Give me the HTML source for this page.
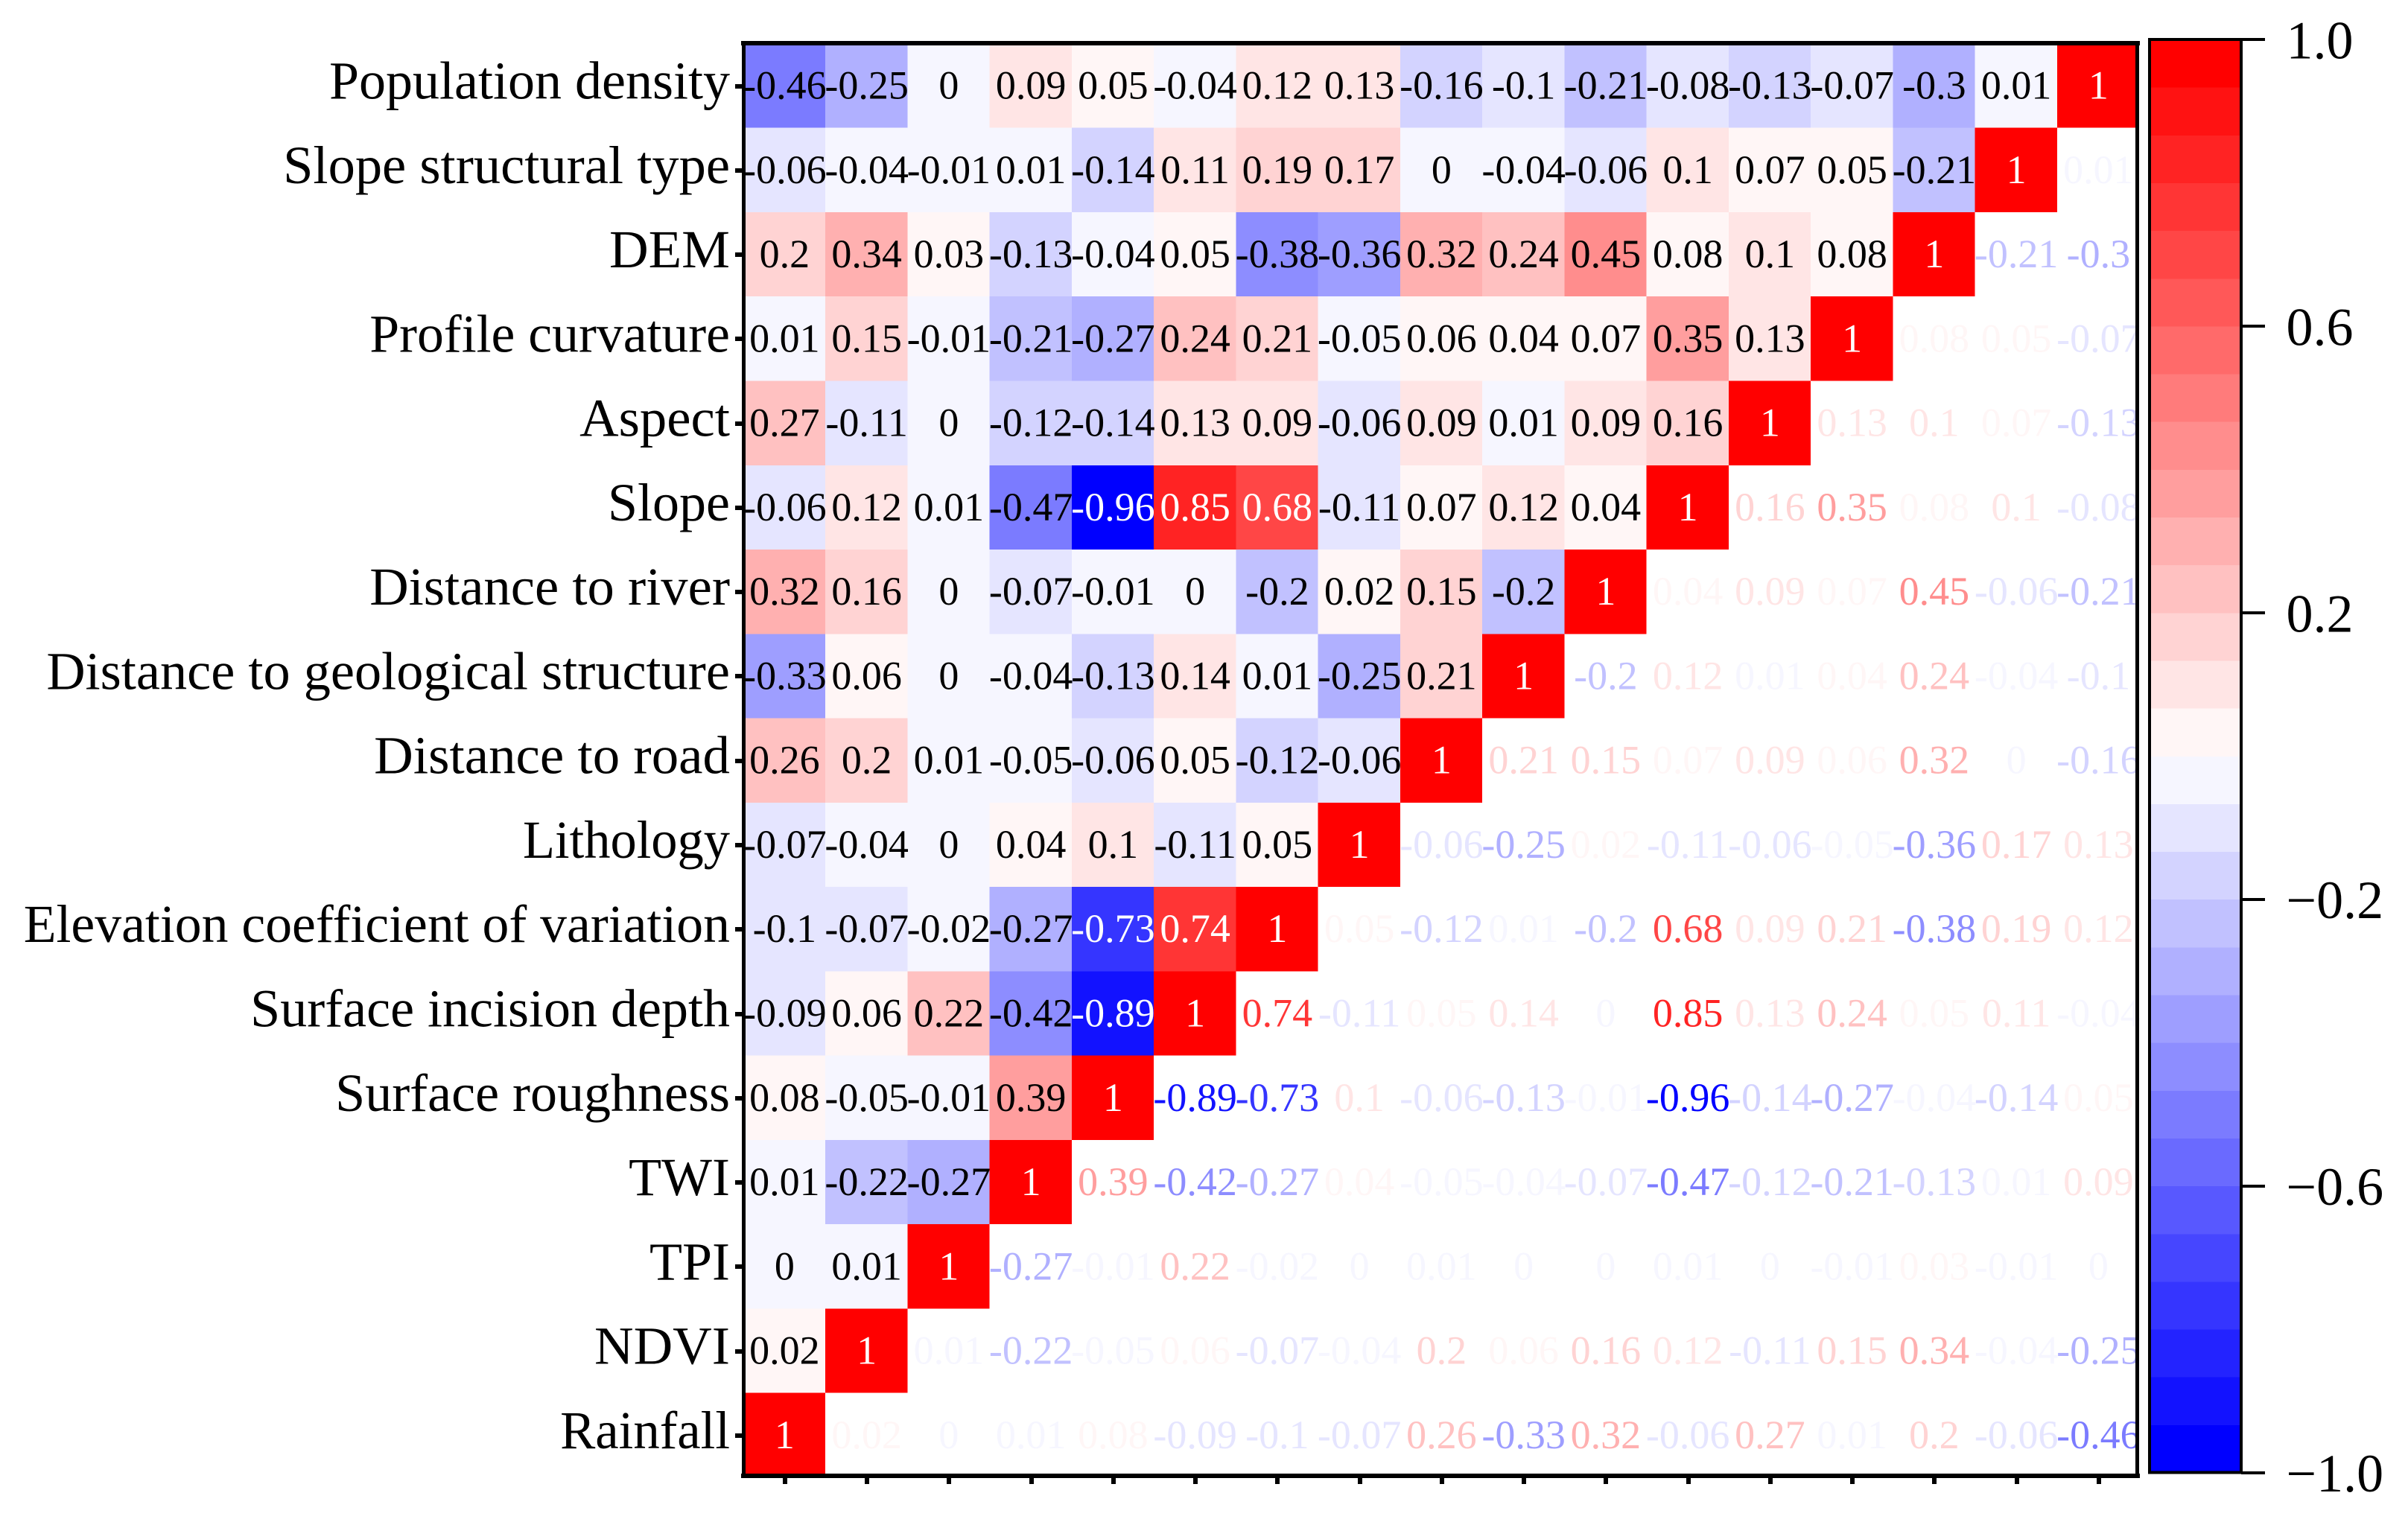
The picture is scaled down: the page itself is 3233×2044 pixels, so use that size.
<!DOCTYPE html>
<html lang="en">
<head>
<meta charset="utf-8">
<title>Correlation heatmap</title>
<style>
html,body{margin:0;padding:0;background:#fff;}
svg{display:block;}
text{font-family:"Liberation Serif","Times New Roman",serif;}
</style>
</head>
<body>
<svg id="chart" xmlns="http://www.w3.org/2000/svg" width="3233" height="2044" viewBox="0 0 3233 2044">
  <rect x="0" y="0" width="3233" height="2044" fill="#ffffff"></rect>
  <g id="cells" shape-rendering="crispEdges"></g>
  <g id="values"></g>
  <g id="yaxis"></g>
  <g id="xaxis" shape-rendering="crispEdges"></g>
  <g shape-rendering="crispEdges">
    <rect x="995" y="55" width="1878" height="6" fill="#000"></rect>
    <rect x="995" y="1979" width="1878" height="6" fill="#000"></rect>
    <rect x="996" y="55" width="5" height="1930" fill="#000"></rect>
    <rect x="2867" y="55" width="5" height="1930" fill="#000"></rect>
  </g>
  <g id="colorbar"></g>
</svg>
<script>
const rowLabels = ["Population density","Slope structural type","DEM","Profile curvature","Aspect","Slope","Distance to river","Distance to geological structure","Distance to road","Lithology","Elevation coefficient of variation","Surface incision depth","Surface roughness","TWI","TPI","NDVI","Rainfall"];
const populationDensity = [-0.46,-0.25,0,0.09,0.05,-0.04,0.12,0.13,-0.16,-0.1,-0.21,-0.08,-0.13,-0.07,-0.3,0.01,1];
const slopeStructuralType = [-0.06,-0.04,-0.01,0.01,-0.14,0.11,0.19,0.17,0,-0.04,-0.06,0.1,0.07,0.05,-0.21,1,0.01];
const dem = [0.2,0.34,0.03,-0.13,-0.04,0.05,-0.38,-0.36,0.32,0.24,0.45,0.08,0.1,0.08,1,-0.21,-0.3];
const profileCurvature = [0.01,0.15,-0.01,-0.21,-0.27,0.24,0.21,-0.05,0.06,0.04,0.07,0.35,0.13,1,0.08,0.05,-0.07];
const aspect = [0.27,-0.11,0,-0.12,-0.14,0.13,0.09,-0.06,0.09,0.01,0.09,0.16,1,0.13,0.1,0.07,-0.13];
const slope = [-0.06,0.12,0.01,-0.47,-0.96,0.85,0.68,-0.11,0.07,0.12,0.04,1,0.16,0.35,0.08,0.1,-0.08];
const distanceToRiver = [0.32,0.16,0,-0.07,-0.01,0,-0.2,0.02,0.15,-0.2,1,0.04,0.09,0.07,0.45,-0.06,-0.21];
const distanceToGeological = [-0.33,0.06,0,-0.04,-0.13,0.14,0.01,-0.25,0.21,1,-0.2,0.12,0.01,0.04,0.24,-0.04,-0.1];
const distanceToRoad = [0.26,0.2,0.01,-0.05,-0.06,0.05,-0.12,-0.06,1,0.21,0.15,0.07,0.09,0.06,0.32,0,-0.16];
const lithology = [-0.07,-0.04,0,0.04,0.1,-0.11,0.05,1,-0.06,-0.25,0.02,-0.11,-0.06,-0.05,-0.36,0.17,0.13];
const elevationCoefficient = [-0.1,-0.07,-0.02,-0.27,-0.73,0.74,1,0.05,-0.12,0.01,-0.2,0.68,0.09,0.21,-0.38,0.19,0.12];
const surfaceIncision = [-0.09,0.06,0.22,-0.42,-0.89,1,0.74,-0.11,0.05,0.14,0,0.85,0.13,0.24,0.05,0.11,-0.04];
const surfaceRoughness = [0.08,-0.05,-0.01,0.39,1,-0.89,-0.73,0.1,-0.06,-0.13,-0.01,-0.96,-0.14,-0.27,-0.04,-0.14,0.05];
const twi = [0.01,-0.22,-0.27,1,0.39,-0.42,-0.27,0.04,-0.05,-0.04,-0.07,-0.47,-0.12,-0.21,-0.13,0.01,0.09];
const tpi = [0,0.01,1,-0.27,-0.01,0.22,-0.02,0,0.01,0,0,0.01,0,-0.01,0.03,-0.01,0];
const ndvi = [0.02,1,0.01,-0.22,-0.05,0.06,-0.07,-0.04,0.2,0.06,0.16,0.12,-0.11,0.15,0.34,-0.04,-0.25];
const rainfall = [1,0.02,0,0.01,0.08,-0.09,-0.1,-0.07,0.26,-0.33,0.32,-0.06,0.27,0.01,0.2,-0.06,-0.46];
const matrixRows = [populationDensity,slopeStructuralType,dem,profileCurvature,aspect,slope,distanceToRiver,distanceToGeological,distanceToRoad,lithology,elevationCoefficient,surfaceIncision,surfaceRoughness,twi,tpi,ndvi,rainfall];
const colorbarTickValues = [1,0.6,0.2,-0.2,-0.6,-1];
const colorbarTickLabels = ["1.0","0.6","0.2","\u22120.2","\u22120.6","\u22121.0"];

const SVG_NS = "http://www.w3.org/2000/svg";
const nCols = matrixRows[0].length;
const nRows = matrixRows.length;
const nLevels = 30;

/* Typography only: per-label width correction, so label left edges match the reference font metrics. */
const labelWidthFit = {
  "Slope structural type": 4,
  "DEM": 2,
  "Profile curvature": -2,
  "Aspect": 2,
  "Distance to river": 4,
  "Distance to geological structure": 4,
  "Distance to road": 6,
  "Lithology": -6,
  "Elevation coefficient of variation": -4,
  "NDVI": 2,
  "Rainfall": -4
};

function colX(c){ return 997.75 + 110.25 * c; }
function rowY(r){ return 58.4 + 113.27 * r; }
function colCenter(c){ return colX(c) + 55.6; }
function rowCenter(r){ return rowY(r) + 56.635; }
function cbY(v){ return 53.5 + (1 - v) / 2 * 1924.5; }

function levelColor(i){
  const t = i / (nLevels - 1);
  if (t < 0.5) {
    const g = Math.round(255 * 2 * t);
    return "rgb(" + g + "," + g + ",255)";
  }
  const g = Math.round(255 * (2 - 2 * t));
  return "rgb(255," + g + "," + g + ")";
}
function valueLevel(v){
  const i = Math.floor((v - 0.015) / 0.0655) + 15;
  return Math.max(0, Math.min(nLevels - 1, i));
}
function valueColor(v){ return levelColor(valueLevel(v)); }
function make(tag, attrs, parent){
  const el = document.createElementNS(SVG_NS, tag);
  for (const k in attrs) { el.setAttribute(k, attrs[k]); }
  parent.appendChild(el);
  return el;
}

const cellsG = document.getElementById("cells");
const valuesG = document.getElementById("values");
const yaxisG = document.getElementById("yaxis");
const xaxisG = document.getElementById("xaxis");
const cbG = document.getElementById("colorbar");

matrixRows.forEach(function(row, r){
  row.forEach(function(v, c){
    const isFilled = r + c <= nCols - 1;
    const isDiagonal = r + c === nCols - 1;
    if (isFilled) {
      const cell = make("rect", {x: colX(c), y: rowY(r), width: colX(c + 1) - colX(c), height: rowY(r + 1) - rowY(r), fill: valueColor(v)}, cellsG);
      
      
    }
    let fill;
    if (!isFilled) { fill = valueColor(v); }
    else if (isDiagonal || Math.abs(v) >= 0.5) { fill = "#ffffff"; }
    else { fill = "#000000"; }
    const t = make("text", {x: colCenter(c), y: rowCenter(r) + 17.5, "text-anchor": "middle", "font-size": 54, fill: fill}, valuesG);
    
    
    t.textContent = String(v);
  });
});

rowLabels.forEach(function(label, r){
  const t = make("text", {x: 980, y: rowCenter(r) + 17.5, "text-anchor": "end", "font-size": 72, fill: "#000"}, yaxisG);
  
  
  t.textContent = label;
  if (labelWidthFit[label]) {
    const fitted = t.getComputedTextLength() + labelWidthFit[label];
    t.setAttribute("textLength", fitted);
    t.setAttribute("lengthAdjust", "spacingAndGlyphs");
  }
  const tick = make("rect", {x: 987, y: Math.round(rowCenter(r) - 2.5), width: 10, height: 6, fill: "#000", "shape-rendering": "crispEdges"}, yaxisG);
  
  
});

for (let c = 0; c < nCols; c++) {
  const tick = make("rect", {x: Math.round(colCenter(c) - 2.5), y: 1985, width: 6, height: 8, fill: "#000"}, xaxisG);
  
  
}

for (let i = 0; i < nLevels; i++) {
  const hi = 1 - i * 2 / nLevels;
  const lo = 1 - (i + 1) * 2 / nLevels;
  const band = make("rect", {x: 2886, y: cbY(hi), width: 123, height: cbY(lo) - cbY(hi), fill: levelColor(nLevels - 1 - i), "shape-rendering": "crispEdges"}, cbG);
  
  
}
const outline = make("rect", {x: 2886, y: 53, width: 123, height: 1924.5, fill: "none", stroke: "#000", "stroke-width": 4, "shape-rendering": "crispEdges"}, cbG);



colorbarTickValues.forEach(function(v, i){
  const y = cbY(v);
  const tick = make("rect", {x: 3009, y: Math.round(y - 2.2), width: 32, height: 4, fill: "#000", "shape-rendering": "crispEdges"}, cbG);
  
  
  const t = make("text", {x: 3069.5, y: y + 25, "font-size": 72, fill: "#000"}, cbG);
  
  
  t.textContent = colorbarTickLabels[i];
});
</script>
</body>
</html>
